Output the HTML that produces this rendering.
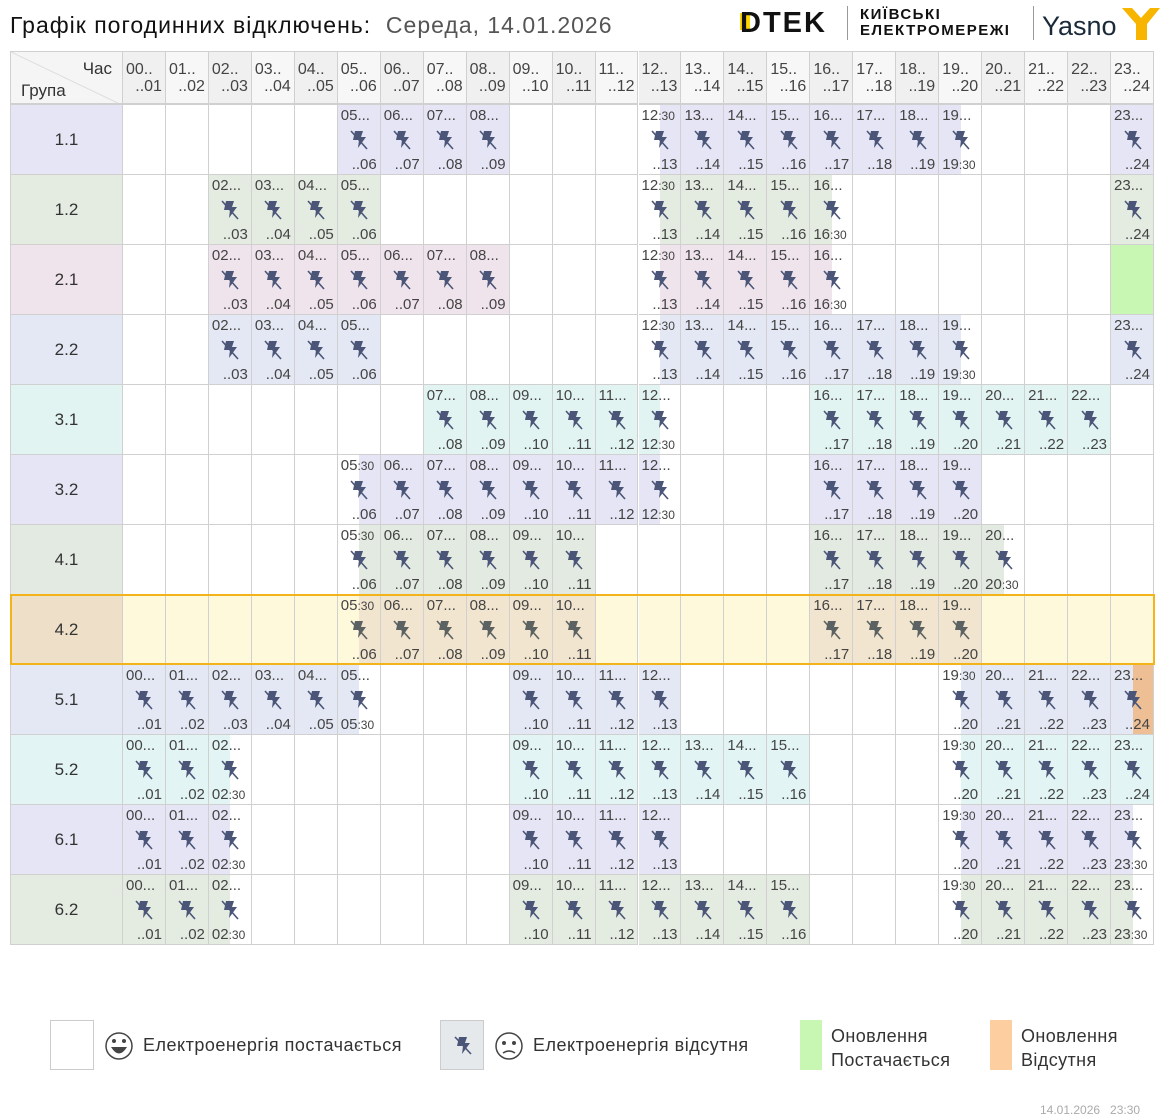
<!DOCTYPE html>
<html><head><meta charset="utf-8">
<style>
body{margin:0;width:1165px;height:1120px;background:#fff;font-family:"Liberation Sans",sans-serif;position:relative;overflow:hidden;color:#333}
.abs{position:absolute}
.cell{position:absolute;box-sizing:border-box;border-right:1px solid #d0d0d0;border-bottom:1px solid #d0d0d0;overflow:hidden}
.lt{position:absolute;left:3px;top:2px;font-size:15px;color:#444;white-space:nowrap}
.lb{position:absolute;right:3px;bottom:1px;font-size:15px;color:#444;white-space:nowrap}
.sm{font-size:12px}
.grp{font-size:17px;color:#333;display:flex;align-items:center;justify-content:center}
</style></head><body>
<div class="abs" style="left:10px;top:12px;font-size:23px;letter-spacing:1px;color:#111;white-space:nowrap">Графік погодинних відключень:&nbsp; <span style="color:#555">Середа, 14.01.2026</span></div>
<div class="abs" style="left:740px;top:6px;height:34px;width:420px">
 <div class="abs" style="left:0;top:7px;width:10px;height:17px;background:#ffd500"></div>
 <div class="abs" style="left:0;top:1px;font-size:29px;font-weight:bold;color:#111;letter-spacing:2px">DTEK</div>
 <div class="abs" style="left:107px;top:0;width:1px;height:34px;background:#999"></div>
 <div class="abs" style="left:120px;top:1px;font-size:15px;font-weight:bold;line-height:16px;color:#111;letter-spacing:1.5px">КИЇВСЬКІ<br>ЕЛЕКТРОМЕРЕЖІ</div>
 <div class="abs" style="left:293px;top:0;width:1px;height:34px;background:#999"></div>
 <div class="abs" style="left:302px;top:5px;font-size:27px;color:#1a2a3a">Yasno</div>
 <svg class="abs" style="left:380px;top:-2px" width="42" height="38"><path d="M2 4 L12 4 L21 14 L30 4 L40 4 L27 20 L27 36 L16 36 L16 20 Z" fill="#f7b500"/></svg>
</div>
<div id="grid"></div>

<div class="abs" style="left:50px;top:1020px;width:44px;height:50px;border:1px solid #ccc;box-sizing:border-box"></div>
<svg class="abs" style="left:104px;top:1030px" width="30" height="32"><circle cx="15" cy="16" r="13" fill="#fff" stroke="#444" stroke-width="1.5"/><path d="M7 17 Q15 30 23 17 Z" fill="#444"/><circle cx="10" cy="11" r="2" fill="#444"/><circle cx="20" cy="11" r="2" fill="#444"/></svg>
<div class="abs" style="left:143px;top:1035px;font-size:18px;letter-spacing:0.5px;color:#333">Електроенергія постачається</div>
<div class="abs" style="left:440px;top:1020px;width:44px;height:50px;border:1px solid #ccc;box-sizing:border-box;background:#e6e9ec"><svg style="position:absolute;left:12px;top:14px" width="20" height="20"><path d="M6 2 L14 2 L12 8 L17 8 L9 19 L10 11 L4 11 Z" fill="#4a5578"/><line x1="2" y1="2" x2="18" y2="19" stroke="#4a5578" stroke-width="1.6"/></svg></div>
<svg class="abs" style="left:494px;top:1030px" width="30" height="32"><circle cx="15" cy="16" r="13" fill="#fff" stroke="#444" stroke-width="1.5"/><path d="M9 23 Q15 19 21 23" stroke="#444" fill="none" stroke-width="1.5"/><circle cx="10" cy="13" r="2" fill="#444"/><circle cx="20" cy="13" r="2" fill="#444"/></svg>
<div class="abs" style="left:533px;top:1035px;font-size:18px;letter-spacing:0.5px;color:#333">Електроенергія відсутня</div>
<div class="abs" style="left:800px;top:1020px;width:22px;height:50px;background:#c8f7b4"></div>
<div class="abs" style="left:831px;top:1024px;font-size:18px;letter-spacing:0.4px;line-height:24px;color:#333">Оновлення<br>Постачається</div>
<div class="abs" style="left:990px;top:1020px;width:22px;height:50px;background:#fdcfa0"></div>
<div class="abs" style="left:1021px;top:1024px;font-size:18px;letter-spacing:0.4px;line-height:24px;color:#333">Оновлення<br>Відсутня</div>
<div class="abs" style="left:1040px;top:1103px;font-size:12px;color:#aaa;white-space:nowrap">14.01.2026&nbsp;&nbsp; 23:30</div>

<script>
const groups=["1.1","1.2","2.1","2.2","3.1","3.2","4.1","4.2","5.1","5.2","6.1","6.2"];
// codes: 0 none, 1 full hour, a = outage from :30, b = outage until :30, g = update on, o = full + update-off tail
const r11=[0,0,0,0,0,1,1,1,1,0,0,0,"a",1,1,1,1,1,1,"b",0,0,0,1];
const r12=[0,0,1,1,1,1,0,0,0,0,0,0,"a",1,1,1,"b",0,0,0,0,0,0,1];
const r21=[0,0,1,1,1,1,1,1,1,0,0,0,"a",1,1,1,"b",0,0,0,0,0,0,"g"];
const r22=[0,0,1,1,1,1,0,0,0,0,0,0,"a",1,1,1,1,1,1,"b",0,0,0,1];
const r31=[0,0,0,0,0,0,0,1,1,1,1,1,"b",0,0,0,1,1,1,1,1,1,1,0];
const r32=[0,0,0,0,0,"a",1,1,1,1,1,1,"b",0,0,0,1,1,1,1,0,0,0,0];
const r41=[0,0,0,0,0,"a",1,1,1,1,1,0,0,0,0,0,1,1,1,1,"b",0,0,0];
const r42=[0,0,0,0,0,"a",1,1,1,1,1,0,0,0,0,0,1,1,1,1,0,0,0,0];
const r51=[1,1,1,1,1,"b",0,0,0,1,1,1,1,0,0,0,0,0,0,"a",1,1,1,"o"];
const r52=[1,1,"b",0,0,0,0,0,0,1,1,1,1,1,1,1,0,0,0,"a",1,1,1,1];
const r61=[1,1,"b",0,0,0,0,0,0,1,1,1,1,0,0,0,0,0,0,"a",1,1,1,"b"];
const r62=[1,1,"b",0,0,0,0,0,0,1,1,1,1,1,1,1,0,0,0,"a",1,1,1,"b"];
const rows=[r11,r12,r21,r22,r31,r32,r41,r42,r51,r52,r61,r62];
const colors=["#e5e5f5","#e4ece2","#f0e4ec","#e4e8f4","#e2f4f1","#e5e5f5","#e3eae2","#f2e5cf","#e4e8f4","#e2f4f3","#e5e5f5","#e4ece2"];
const X0=10,GW=113,CX=123,CW=(1154-123)/24,Y0=51,HH=54,RH=70;
const g=document.getElementById('grid');
const p=n=>String(n).padStart(2,'0');
function mk(l,t,w,h,bg){const d=document.createElement('div');d.className='cell';d.style.left=l+'px';d.style.top=t+'px';d.style.width=w+'px';d.style.height=h+'px';if(bg)d.style.background=bg;g.appendChild(d);return d;}
const corner=mk(X0,Y0,GW,HH,'#f5f5f5');


corner.style.borderLeft='1px solid #d0d0d0';corner.style.borderTop='1px solid #d0d0d0';corner.style.borderBottom='2px solid #d0d0d0';
corner.innerHTML='<svg style="position:absolute;left:0;top:0" width="113" height="54"><line x1="0" y1="0" x2="113" y2="54" stroke="#ddd"/></svg><span style="position:absolute;right:10px;top:7px;font-size:17px;color:#333">Час</span><span style="position:absolute;left:10px;top:29px;font-size:17px;color:#333">Група</span>';
for(let i=0;i<24;i++){
 const h=mk(CX+i*CW,Y0,CW,HH,i%2==0?'#f0f0f0':'#f7f7f7');
 
 
 h.style.borderTop='1px solid #d0d0d0';h.style.borderBottom='2px solid #d0d0d0';
 h.innerHTML='<span class="lt" style="top:9px;font-size:16px">'+p(i)+'..</span><span class="lb" style="bottom:7px;font-size:16px">..'+p(i+1)+'</span>';
}
const icon=(c)=>'<svg style="position:absolute;left:'+(CW/2-10)+'px;top:24px" width="20" height="22"><path d="M6 2 L14 2 L12 8 L17 8 L9 19 L10 11 L4 11 Z" fill="'+c+'"/><line x1="2" y1="2" x2="18" y2="20" stroke="'+c+'" stroke-width="1.6"/></svg>';
rows.forEach((r,ri)=>{
 const y=Y0+HH+ri*RH, is42=groups[ri]==="4.2";
 const gc=mk(X0,y,GW,RH,is42?'#eedfc8':colors[ri]);
 
 
 gc.classList.add('grp');gc.style.borderLeft='1px solid #d0d0d0';gc.textContent=groups[ri];
 r.forEach((v,i)=>{
  const c=mk(CX+i*CW,y,CW,RH,is42?'#fff9dc':'#fff');
  
  
  const col=colors[ri];let html='';
  if(v==="g"){c.style.background='#c8f7b4';return;}
  if(v===0)return;
  if(v===1||v==="o")c.style.background=col;
  if(v==="a")html+='<div style="position:absolute;left:'+CW/2+'px;top:0;right:0;bottom:0;background:'+col+'"></div>';
  if(v==="b")html+='<div style="position:absolute;left:0;top:0;width:'+CW/2+'px;bottom:0;background:'+col+'"></div>';
  if(v==="o")html+='<div style="position:absolute;left:'+CW/2+'px;top:0;right:0;bottom:0;background:#eebf95"></div>';
  html+=icon(is42?'#5c6262':'#4a5578');
  const top=v==="a"?p(i)+'<span class="sm">:30</span>':p(i)+'...';
  const bot=v==="b"?p(i)+'<span class="sm">:30</span>':'..'+p(i+1);
  html+='<span class="lt">'+top+'</span><span class="'+(v==="b"?'lt':'lb')+'" style="'+(v==="b"?'top:auto;bottom:1px':'')+'">'+bot+'</span>';
  c.innerHTML=html;
 });
 if(is42){const b=document.createElement('div');b.className='abs';b.style.cssText='left:'+X0+'px;top:'+(y-1)+'px;width:'+(1155-X0)+'px;height:'+(RH+1)+'px;border:2px solid #f2b31b;box-sizing:border-box';
  
  
  g.appendChild(b);}
});
</script>
</body></html>
